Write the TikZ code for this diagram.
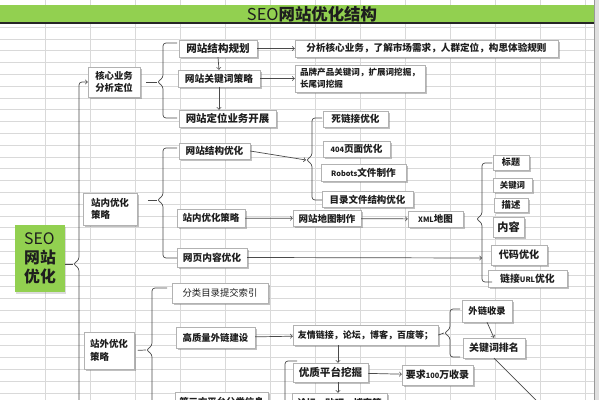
\documentclass[tikz,border=0pt]{standalone}
\usepackage{fontspec}
\setmainfont{Noto Sans CJK SC}
\usetikzlibrary{positioning,shadows,calc}
\definecolor{ink}  {HTML}{1E1E1E}
\definecolor{leaf} {HTML}{92D050}
\definecolor{cell} {HTML}{D9D9D9}
\definecolor{wire} {HTML}{4A4A4A}
\colorlet{rim}{black!30}
\newcommand\lat[1]{{\fontsize{6.3}{8}\selectfont #1}}
% brace: name, x, tip y, top, bottom, hook end
\newcommand\brk[6]{%
  \coordinate (#1) at (#2-6,#3);
  \draw[brkline] (#6,#4) -| (#2,#3-4) -- (#1) -- (#2,#3+4) |- (#6,#5);}
\tikzset{
  >=to,
  % --- nodes
  box/.style   = {draw=rim, fill=white, text=ink, inner sep=1pt, align=center,
                  font=\bfseries\fontsize{8.5}{10.5}\selectfont,
                  drop shadow={shadow xshift=1.3pt, shadow yshift=-1.3pt,
                               fill=black!55, opacity=.45}},
  wh/.style 2 args = {minimum width=#1*0.03cm, minimum height=#2*0.03cm},
  fs/.style    = {font=\bfseries\fontsize{#1}{10.5}\selectfont},
  rootbox/.style = {fill=leaf, text=ink, align=left, wh={50}{67}, inner sep=0pt,
                  font=\bfseries\fontsize{13.5}{16}\selectfont,
                  drop shadow={shadow xshift=1pt, shadow yshift=-1.5pt,
                               fill=black!40, opacity=.35}},
  % --- edges
  ln/.style    = {draw=wire, line width=0.6pt},
  e/.style     = {ln, ->},
  brkline/.style = {ln, rounded corners=2.5pt},
  cellline/.style = {draw=cell, line width=0.4pt},
}
\begin{document}
\begin{tikzpicture}[x=0.03cm, y=-0.03cm]
  \useasboundingbox (0,0) rectangle (599,400);
  \clip (0,0) rectangle (599,400);
  % sheet
  \foreach \x in {45,90,...,585} \draw[cellline] (\x,0) -- (\x,400);
  \foreach \y in {27,38.8,...,400} \draw[cellline] (0,\y) -- (594,\y);
  \fill[black!12] (594,0) rectangle (599,400);
  \draw[black!40, line width=0.8pt] (594,0) -- (594,400);
  % title bar
  \fill[leaf] (0,5) rectangle (594,23);
  \draw[black!85, line width=1.2pt] (0,23) -- (594,23);
  \node[font=\bfseries\fontsize{14}{16}\selectfont, text=ink] (title) at (312,14.5)
       {{\mdseries SEO}网站优化结构};

  % root
  \node[rootbox] (root) at (40,258.5) {{\mdseries SEO}\\网站\\优化};

  % core business
  \node[box, wh={52}{30}, fs=8] (hx) at (114,82) {核心业务\\分析定位};
  \node[box, wh={78}{17}, fs=9] (a1) at (218,48.5) {网站结构规划};
  \node[box, wh={82}{17}, fs=8.3] (a2) at (219,78.5) {网站关键词策略};
  \node[box, wh={97}{17}, fs=8.9] (a3) at (227.5,118.5) {网站定位业务开展};
  \node[box, wh={263}{17}, fs=8.2] (a4) at (426.5,48.5) {分析核心业务，了解市场需求，人群定位，构思体验规则};
  \node[box, wh={130}{27}, fs=7.3, align=left] (a5) at (360,78.5) {品牌产品关键词，扩展词挖掘，\\长尾词挖掘};

  % on-site
  \node[box, wh={54}{32}, fs=8.1, align=left] (zn) at (110,209) {站内优化\\策略};
  \node[box, wh={71}{16}, fs=8.2] (b1) at (214.5,151) {网站结构优化};
  \node[box, wh={68}{18}, fs=8.1] (b2) at (211,218) {站内优化策略};
  \node[box, wh={70}{19}, fs=8.3] (b3) at (212,257.5) {网页内容优化};
  \node[box, wh={65}{16}, fs=8.2] (c1) at (355.5,119) {死链接优化};
  \node[box, wh={67}{16}, fs=8.2] (c2) at (356.5,149) {\lat{404}页面优化};
  \node[box, wh={85}{17}, fs=8.2] (c3) at (363.5,172.5) {\lat{Robots}文件制作};
  \node[box, wh={91}{16}, fs=8.1] (c4) at (367.5,199.5) {目录文件结构优化};
  \node[box, wh={68}{16}, fs=8.1] (d1) at (327,218.5) {网站地图制作};
  \node[box, wh={55}{16}, fs=8.1] (d2) at (435.5,219) {\lat{XML}地图};
  \node[box, wh={36}{15}, fs=7.7] (f1) at (511,162.5) {标题};
  \node[box, wh={39}{14}, fs=7.2] (f2) at (512.5,185) {关键词};
  \node[box, wh={34}{14}, fs=8] (f3) at (511,205) {描述};
  \node[box, wh={31}{20}, fs=9.5] (f4) at (508.5,227) {内容};
  \node[box, wh={56}{20}, fs=8.6] (f5) at (519,255) {代码优化};
  \node[box, wh={79}{17}, fs=8.4] (f6) at (527.5,278.5) {链接\lat{URL}优化};

  % off-site
  \node[box, wh={50}{37}, fs=8.1, align=left] (zw) at (109,350.5) {站外优化\\策略};
  \node[box, wh={96}{20}, fs=8] (g1) at (220,293) {\mdseries 分类目录提交索引};
  \node[box, wh={79}{21}, fs=8] (g2) at (215.5,337.5) {高质量外链建设};
  \node[box, wh={93}{20}, fs=8] (g3) at (221.5,402) {第三方平台分类信息};
  \node[box, wh={145}{20}, fs=7.7] (h1) at (365.5,335) {友情链接，论坛，博客，百度等；};
  \node[box, wh={50}{22}, fs=7.9] (i1) at (487,311) {外链收录};
  \node[box, wh={62}{20}, fs=8.5] (i2) at (494,348) {关键词排名};
  \node[box, wh={75}{19}, fs=9] (j1) at (330.5,372.5) {优质平台挖掘};
  \node[box, wh={71}{20}, fs=8.5] (j2) at (437.5,375) {要求\lat{100}万收录};
  \node[box, wh={95}{20}, fs=8] (j3) at (339.5,403) {论坛，贴吧，博客等};

  % braces
  \brk{bk}{163}{82}{43}{118}{177}
  \brk{bz}{163}{200}{148}{258}{177}
  \brk{bc}{312}{160}{118}{200}{322}
  \brk{bd}{482}{219}{163}{282}{492}
  \brk{bw}{152}{350}{288}{412}{167}
  \brk{bh}{450}{333}{309}{357}{460}
  \draw[brkline] (297,361) -| (285,430);

  \coordinate (rt) at (73,264);
  \coordinate (bdin) at (482,258);
  \coordinate (hj) at (338,0);
  \coordinate (kwout) at (560,424);

  % connectors
  \draw[e, rounded corners=2.5pt] (79,440) -- (79,268) -- (rt) -- (79,260) -- (79,82) -- (hx.west);
  \draw[ln] (root.east |- rt) -- (rt);
  \draw[ln, shorten <=5pt] (hx.east) -- (bk);
  \draw[ln, shorten <=9pt] (zn.east |- bz) -- (bz);
  \draw[ln, shorten <=3pt] (zw.east) -- (bw);
  \draw[e] (a1.south) -- (a2.north);
  \draw[e] (a2.south) -- (a2.south |- a3.north);
  \draw[e] (a1) -- (a4);
  \draw[e] (a2) -- (a5);
  \draw[e] (b1.east) -- (bc);
  \draw[e] (b2) -- (d1);
  \draw[e] (d1) -- (d2);
  \draw[e] (b3.east) -- (bdin);
  \draw[e] (g2) -- (h1);
  \draw[ln] (h1.east) -- (bh);
  \draw[e] (i1.south) -- (i2.north);
  \draw[ln] (i2.south) -- (kwout);
  \draw[e] (h1.south -| hj) -- (j1.north -| hj);
  \draw[e] (j1) -- (j2);
  \draw[e] (j1.south -| hj) -- (j3.north -| hj);
\end{tikzpicture}
\end{document}
